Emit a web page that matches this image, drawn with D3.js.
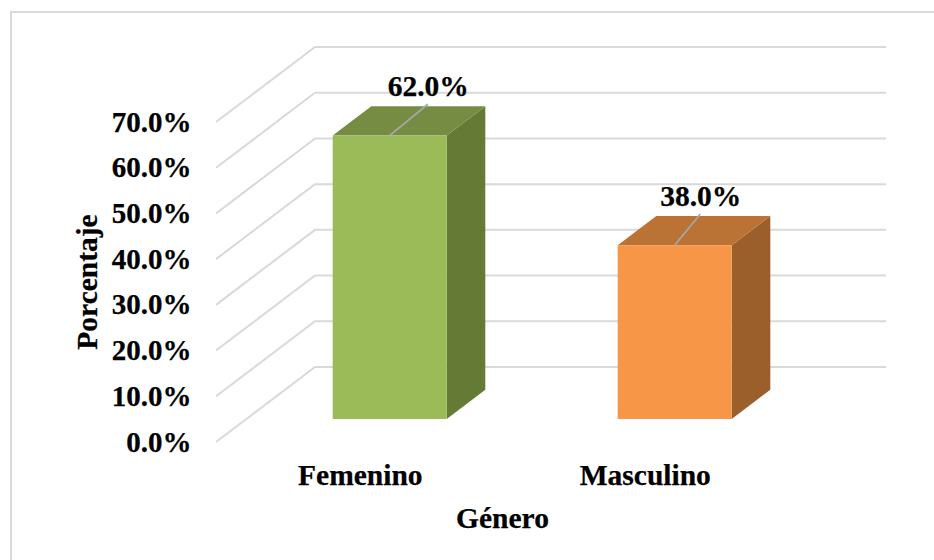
<!DOCTYPE html>
<html>
<head>
<meta charset="utf-8">
<style>
html,body{margin:0;padding:0;background:#fff}
svg{display:block}
text{font-family:"Liberation Serif","Times New Roman",serif;font-weight:bold;fill:#000;stroke:#000;stroke-width:0.25px}
</style>
<script src="https://cdn.jsdelivr.net/npm/d3@7"></script>
</head>
<body>
<svg id="chart" width="934" height="560"></svg>
<script>
const categories = ["Femenino", "Masculino"];
const percentages = [62.0, 38.0];
const faceColors = ["#9BBB59", "#F79646"];
const topColors = ["#768C42", "#BB7235"];
const sideColors = ["#647A35", "#9B5F2B"];
const tickValues = [0, 10, 20, 30, 40, 50, 60, 70];
const xAxisTitle = "Género";
const yAxisTitle = "Porcentaje";

const svg = d3.select("#chart");
const fontSize = 29.5;

// Oblique projection: depth runs from the front edge of the floor to the back wall.
const depthX = d3.scaleLinear().domain([0, 1]).range([0, 99]);
const depthY = d3.scaleLinear().domain([0, 1]).range([0, -75]);
const y = d3.scaleLinear().domain([0, 70]).range([442, 122]);
const project = (px, v, z) => [px + depthX(z), y(v) + depthY(z)];

const wallX = 216, wallEnd = 886;
const barFront = 0.307, barBack = 0.697;

const band = d3.scaleBand().domain(categories).range([216.8, 786.8]).paddingInner(0.6).paddingOuter(0.3);

// Frame: only the top and left edges fall inside the page
svg.append("path").attr("d", d3.line()([[11, 560], [11, 12], [934, 12]]))
  .attr("fill", "none").attr("stroke", "#D9D9D9").attr("stroke-width", 2);

// Gridlines: side wall diagonal plus back wall run
const gridPath = d3.line();
svg.append("g").selectAll("path").data(tickValues).join("path")
  .attr("d", v => {
    const a = project(wallX, v, 0), b = project(wallX, v, 1);
    return gridPath([a, b, [wallEnd, b[1]]]);
  })
  .attr("fill", "none").attr("stroke", "#D9D9D9").attr("stroke-width", 2);

// Value axis labels
svg.append("g").selectAll("text").data(tickValues).join("text")
  .attr("x", 191.5).attr("y", v => y(v)).attr("dy", "0.33em")
  .attr("text-anchor", "end").attr("font-size", 29)
  .text(v => d3.format(".1f")(v) + "%");

// Bars with front, top and side faces
const bars = svg.append("g").selectAll("g").data(categories).join("g");
bars.each(function (c, i) {
  const g = d3.select(this);
  const x0 = band(c), x1 = x0 + band.bandwidth(), v = percentages[i];
  const poly = pts => pts.map(p => p.join(",")).join(" ");
  const A = project(x0, v, barFront), B = project(x1, v, barFront);
  const C = project(x1, v, barBack), D = project(x0, v, barBack);
  const E = project(x1, 0, barFront), F = project(x1, 0, barBack), G = project(x0, 0, barFront);
  g.append("polygon").attr("points", poly([B, C, F, E])).attr("fill", sideColors[i]);
  g.append("polygon").attr("points", poly([A, B, C, D])).attr("fill", topColors[i]);
  g.append("polygon").attr("points", poly([A, B, E, G])).attr("fill", faceColors[i]);

  // Leader line from the bar top up to its value label; the second label sits further left
  const mx = (x0 + x1) / 2;
  const L0 = project(mx, v, barFront), L1 = project(mx, v, barBack);
  const labelX = L1[0] - (i === 1 ? 12.5 : 0);
  g.append("line")
    .attr("x1", L0[0]).attr("y1", L0[1])
    .attr("x2", labelX - 0.5).attr("y2", L1[1] - 2)
    .attr("stroke", "#A6A6A6").attr("stroke-width", 1.8);
  g.append("text")
    .attr("x", labelX).attr("y", L1[1] - 10.5)
    .attr("text-anchor", "middle").attr("font-size", fontSize)
    .text(d3.format(".1f")(v) + "%");

  // Category label
  g.append("text")
    .attr("x", x0 + band.bandwidth() / 2 + 1).attr("y", 485)
    .attr("text-anchor", "middle").attr("font-size", fontSize)
    .text(c);
});

// Axis titles
svg.append("text").attr("x", 502.5).attr("y", 528)
  .attr("text-anchor", "middle").attr("font-size", fontSize).text(xAxisTitle);
svg.append("text").attr("transform", "translate(97,282) rotate(-90)")
  .attr("text-anchor", "middle").attr("font-size", fontSize).text(yAxisTitle);
</script>
</body>
</html>
